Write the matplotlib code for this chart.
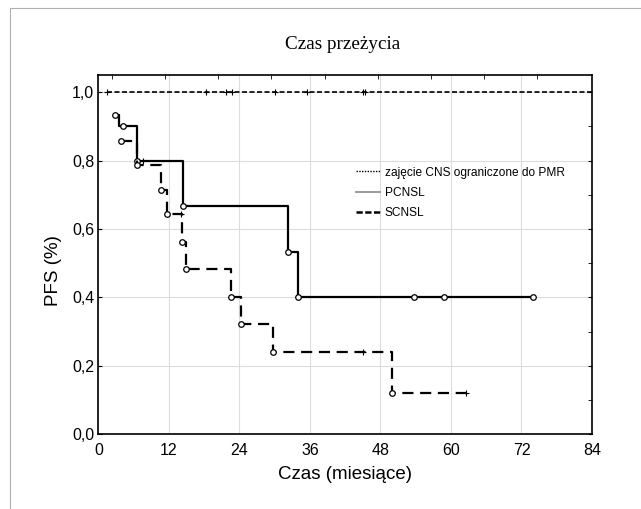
import numpy as np
import matplotlib
matplotlib.use("Agg")
import matplotlib.pyplot as plt
from matplotlib.lines import Line2D
from matplotlib.patches import Rectangle

plt.rcParams['font.family'] = ['Liberation Sans', 'DejaVu Sans']

# data (months, survival fraction)
pmr_steps_t = [1.4, 84.0]
pmr_steps_s = [1.0, 1.0]
pmr_cens_t = [1.4, 18.4, 21.8, 22.8, 30.0, 35.5, 45.0, 45.4]
pmr_cens_s = [1.0, 1.0, 1.0, 1.0, 1.0, 1.0, 1.0, 1.0]

pcnsl_steps_t = [2.85, 3.5, 6.6, 14.45, 32.2, 33.9, 74.0]
pcnsl_steps_s = [0.933, 0.9, 0.8, 0.667, 0.533, 0.4, 0.4]
pcnsl_circ_t = [2.85, 4.25, 6.6, 14.45, 32.2, 33.9, 53.7, 58.8, 74.0]
pcnsl_circ_s = [0.933, 0.9, 0.8, 0.667, 0.533, 0.4, 0.4, 0.4, 0.4]
pcnsl_cens_t = [7.6]
pcnsl_cens_s = [0.8]

scnsl_steps_t = [3.8, 6.6, 10.65, 11.7, 14.3, 14.9, 22.5, 24.2, 29.8, 50.0, 62.6]
scnsl_steps_s = [0.857, 0.786, 0.714, 0.643, 0.563, 0.482, 0.401, 0.321, 0.241, 0.12, 0.12]
scnsl_circ_t = [3.8, 6.6, 10.65, 11.7, 14.3, 14.9, 22.5, 24.2, 29.8, 50.0]
scnsl_circ_s = [0.857, 0.786, 0.714, 0.643, 0.563, 0.482, 0.401, 0.321, 0.241, 0.12]
scnsl_cens_t = [14.0, 45.1, 62.6]
scnsl_cens_s = [0.643, 0.241, 0.12]

x_ticks = [0, 12, 24, 36, 48, 60, 72, 84]
y_ticks = [0.0, 0.2, 0.4, 0.6, 0.8, 1.0]
y_ticklabels = ['0,0', '0,2', '0,4', '0,6', '0,8', '1,0']
top_ticks = [2.3, 11.35, 20.4, 29.45, 38.5, 47.55, 56.6, 65.65, 74.7]

legend_labels = ['zajęcie CNS ograniczone do PMR', 'PCNSL', 'SCNSL']

fig = plt.figure(figsize=(6.41, 5.09), dpi=100)
fig.patches.append(Rectangle((10/641, -0.1), 1.2, 1 - 8/509 + 0.1, transform=fig.transFigure,
                             fill=False, edgecolor='#b0b0b0', linewidth=0.8))
ax = fig.add_axes([0.1534, 0.1468, 0.7702, 0.7059])

ax.set_xlim(0, 84)
ax.set_ylim(0, 1.05)
ax.grid(True, color='#dcdcdc', linewidth=0.8)
ax.set_axisbelow(True)

ax.step(pmr_steps_t, pmr_steps_s, where='post', color='black', lw=1.2, dashes=(3, 1.5))
ax.plot(pmr_cens_t, pmr_cens_s, '+', color='black', ms=5, mew=0.8)

ax.step(pcnsl_steps_t, pcnsl_steps_s, where='post', color='black', lw=1.6)
ax.plot(pcnsl_circ_t, pcnsl_circ_s, 'o', mfc='white', mec='black', ms=4, mew=0.9)
ax.plot(pcnsl_cens_t, pcnsl_cens_s, '+', color='black', ms=5, mew=0.8)

ax.step(scnsl_steps_t, scnsl_steps_s, where='post', color='black', lw=1.6, dashes=(5, 3))
ax.plot(scnsl_circ_t, scnsl_circ_s, 'o', mfc='white', mec='black', ms=4, mew=0.9)
ax.plot(scnsl_cens_t, scnsl_cens_s, '+', color='black', ms=5, mew=0.8)

ax.set_xticks(x_ticks)
ax.set_xticks(top_ticks, minor=True)
ax.set_yticks(y_ticks)
ax.set_yticklabels(y_ticklabels)
ax.set_yticks([0.1, 0.3, 0.5, 0.7, 0.9], minor=True)
ax.tick_params(axis='x', which='major', direction='in', length=0, labelsize=11.5, pad=6)
ax.tick_params(axis='x', which='minor', direction='in', top=True, bottom=False, length=3)
ax.tick_params(axis='y', which='major', direction='in', left=True, right=True, length=3, labelsize=11.5, pad=3)
ax.tick_params(axis='y', which='minor', direction='in', left=False, right=True, length=3)
for s in ax.spines.values():
    s.set_linewidth(1.2)

ax.set_xlabel('Czas (miesiące)', fontsize=13.5, labelpad=6)
ax.set_ylabel('PFS (%)', fontsize=13.5)
ax.yaxis.set_label_coords(-0.074, 0.457)
fig.text(0.535, 0.912, 'Czas przeżycia', ha='center', va='center',
         family=['Liberation Serif', 'DejaVu Serif'], fontsize=13.8)

handles = [
    Line2D([], [], color='black', lw=1.0, linestyle=(0, (1, 1))),
    Line2D([], [], color='#888888', lw=1.2),
    Line2D([], [], color='black', lw=1.8, dashes=(2.5, 1)),
]
ax.legend(handles, legend_labels, loc='upper left', bbox_to_anchor=(0.522, 0.745),
          frameon=False, fontsize=8.6, handlelength=2.0, handletextpad=0.4,
          labelspacing=0.7, borderpad=0, borderaxespad=0)

fig.savefig('out.png', dpi=100)
